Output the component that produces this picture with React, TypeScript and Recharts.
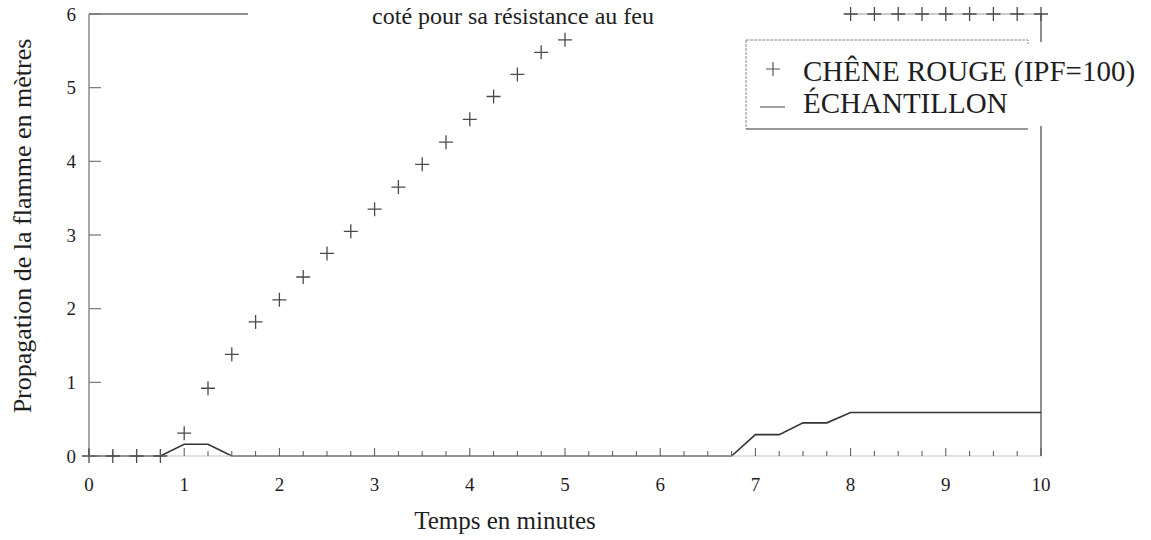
import { ComposedChart, Line, Scatter, XAxis, YAxis, ReferenceLine } from "recharts";

// temps (minutes) des relevés du chêne rouge
const OAK_TIME = [
  0, 0.25, 0.5, 0.75, 1, 1.25, 1.5, 1.75, 2, 2.25, 2.5, 2.75, 3, 3.25, 3.5, 3.75, 4, 4.25, 4.5, 4.75, 5,
  8, 8.25, 8.5, 8.75, 9, 9.25, 9.5, 9.75, 10,
];
// propagation (m) du chêne rouge, IPF=100
const OAK_VALUES = [
  0, 0, 0, 0, 0.31, 0.92, 1.38, 1.82, 2.12, 2.43, 2.75, 3.05, 3.35, 3.65, 3.96, 4.26, 4.57, 4.88, 5.18, 5.48, 5.65,
  6, 6, 6, 6, 6, 6, 6, 6, 6,
];

// échantillon : points de cassure de la courbe
const SAMPLE_TIME = [0, 0.75, 1, 1.25, 1.5, 6.75, 7, 7.25, 7.5, 7.75, 8, 10];
const SAMPLE_VALUES = [0, 0, 0.16, 0.16, 0, 0, 0.29, 0.29, 0.45, 0.45, 0.59, 0.59];

const X_LABELS = [0, 1, 2, 3, 4, 5, 6, 7, 8, 9, 10];
const Y_TICKS = [0, 1, 2, 3, 4, 5, 6];
const X_TICKS = Array.from({ length: 41 }, (_, i) => i / 4);

const TITLE = "coté pour sa résistance au feu";
const X_TITLE = "Temps en minutes";
const Y_TITLE = "Propagation de la flamme en mètres";
const OAK_NAME = "CHÊNE ROUGE (IPF=100)";
const SAMPLE_NAME = "ÉCHANTILLON";

const oakData = OAK_TIME.map((t, i) => ({ t, oak: OAK_VALUES[i] }));
const sampleData = SAMPLE_TIME.map((t, i) => ({ t, sample: SAMPLE_VALUES[i] }));

const FONT = "'Liberation Serif', 'DejaVu Serif', serif";
const INK = "#1e1e1e";

function Plus(props: any) {
  const { cx, cy } = props;
  if (cx == null || cy == null) return null;
  return (
    <path
      d={`M${cx - 7},${cy}H${cx + 7}M${cx},${cy - 7}V${cy + 7}`}
      stroke="#4a4a4a"
      strokeWidth={1.3}
      fill="none"
    />
  );
}

function XTick(props: any) {
  const { x, y, payload } = props;
  const v = payload.value;
  const major = Number.isInteger(v);
  return (
    <g>
      <line x1={x} x2={x} y1={y} y2={y - (major ? 8 : 5)} stroke="#555" strokeWidth={1} />
      {major && X_LABELS.includes(v) && (
        <text x={x} y={y + 35} textAnchor="middle" fontFamily={FONT} fontSize={19} fill={INK}>
          {v}
        </text>
      )}
    </g>
  );
}

function YTick(props: any) {
  const { x, y, payload } = props;
  return (
    <g>
      <line x1={x} x2={x + 12} y1={y} y2={y} stroke="#777" strokeWidth={1.2} />
      <text x={x - 13} y={y} dy="0.35em" textAnchor="end" fontFamily={FONT} fontSize={19} fill={INK}>
        {payload.value}
      </text>
    </g>
  );
}

export default function App() {
  return (
    <div style={{ position: "absolute", left: 0, top: 0, width: 1151, height: 540, background: "#fff" }}>
      <ComposedChart width={1151} height={540} margin={{ top: 14, right: 110, bottom: 0, left: 0 }}>
        <XAxis
          type="number"
          dataKey="t"
          domain={[0, 10]}
          ticks={X_TICKS}
          interval={0}
          tickSize={0}
          tickMargin={0}
          tick={<XTick />}
          height={84}
          axisLine={{ stroke: "#c4c4c4", strokeWidth: 1 }}
          allowDuplicatedCategory={false}
        />
        <YAxis
          type="number"
          domain={[0, 6]}
          ticks={Y_TICKS}
          interval={0}
          tickSize={0}
          tickMargin={0}
          tick={<YTick />}
          width={89}
          axisLine={{ stroke: "#8a8a8a", strokeWidth: 1.5 }}
        />
        <ReferenceLine segment={[{ x: 0, y: 6 }, { x: 1.67, y: 6 }]} stroke="#6a6a6a" strokeWidth={1.5} />
        <ReferenceLine segment={[{ x: 7.95, y: 6 }, { x: 10, y: 6 }]} stroke="#9a9a9a" strokeWidth={1.2} />
        <ReferenceLine x={10} stroke="#6a6a6a" strokeWidth={1.5} />
        <Line
          data={sampleData}
          dataKey="sample"
          type="linear"
          stroke="#333"
          strokeWidth={1.6}
          dot={false}
          activeDot={false}
          isAnimationActive={false}
        />
        <Scatter data={oakData} dataKey="oak" shape={<Plus />} isAnimationActive={false} />
      </ComposedChart>
      <svg
        width={1151}
        height={540}
        style={{ position: "absolute", left: 0, top: 0, pointerEvents: "none" }}
      >
        <text x={513} y={24} textAnchor="middle" fontFamily={FONT} fontSize={24} fill={INK}>
          {TITLE}
        </text>
        <text x={505} y={529} textAnchor="middle" fontFamily={FONT} fontSize={25} fill={INK}>
          {X_TITLE}
        </text>
        <text
          x={31}
          y={226}
          textAnchor="middle"
          fontFamily={FONT}
          fontSize={26}
          fill={INK}
          transform="rotate(-90 31 226)"
        >
          {Y_TITLE}
        </text>
        {/* légende */}
        <rect x={746} y={42} width={400} height={84} fill="#fff" />
        <path d="M746,40H1028V44M746,40V129" stroke="#888" strokeWidth={1} strokeDasharray="3 1" fill="none" />
        <line x1={746} x2={1028} y1={129} y2={129} stroke="#777" strokeWidth={1.6} />
        <path d="M766,69H780M773,62V76" stroke="#555" strokeWidth={1.2} fill="none" />
        <line x1={760} x2={785} y1={107} y2={107} stroke="#666" strokeWidth={1.2} />
        <text x={803} y={81} fontFamily={FONT} fontSize={29} fill={INK}>
          {OAK_NAME}
        </text>
        <text x={803} y={113} fontFamily={FONT} fontSize={29} fill={INK}>
          {SAMPLE_NAME}
        </text>
      </svg>
    </div>
  );
}
